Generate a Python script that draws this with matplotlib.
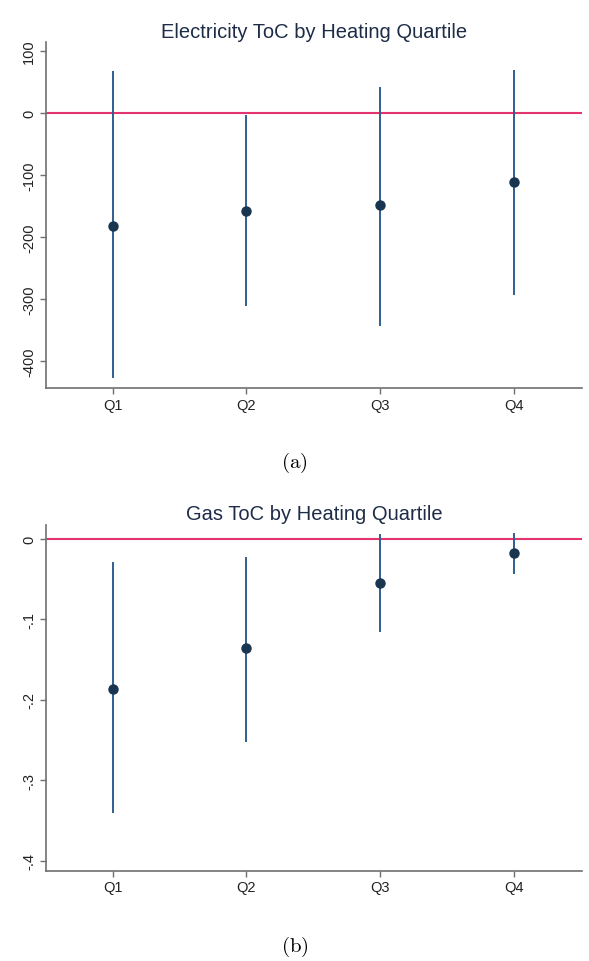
import matplotlib
matplotlib.use("Agg")
import matplotlib.pyplot as plt
import numpy as np

plt.rcParams['font.family'] = ['Liberation Sans', 'DejaVu Sans']
plt.rcParams['mathtext.fontset'] = 'cm'

quartiles = ["Q1", "Q2", "Q3", "Q4"]

elec_est = [-182, -158, -149, -112]
elec_lo = [-428, -311, -344, -294]
elec_hi = [68, -4, 42, 69]

gas_est = [-0.186, -0.136, -0.055, -0.017]
gas_lo = [-0.341, -0.252, -0.116, -0.043]
gas_hi = [-0.029, -0.023, 0.006, 0.0075]

elec_ticks = [100, 0, -100, -200, -300, -400]
elec_ticklabels = ["100", "0", "-100", "-200", "-300", "-400"]
gas_ticks = [0, -0.1, -0.2, -0.3, -0.4]
gas_ticklabels = ["0", "-.1", "-.2", "-.3", "-.4"]

fig = plt.figure(figsize=(5.89, 9.62), dpi=100)
fig.patch.set_facecolor('white')

axis_col = '#707070'
line_col = '#2f5f8f'
dot_col = '#1a3550'
red_col = '#e5336f'
title_col = '#1e2c48'


def panel(ax, est, lo, hi, ticks, ticklabels, ylim, title):
    x = np.arange(1, len(quartiles) + 1)
    ax.axhline(0, color=red_col, lw=1.5, zorder=1)
    ax.vlines(x, lo, hi, color=line_col, lw=1.4, zorder=2)
    ax.plot(x, est, 'o', color=dot_col, ms=6.5, zorder=3)
    ax.set_xlim(0.5, 4.51)
    ax.set_ylim(*ylim)
    ax.set_xticks(x)
    ax.set_xticklabels(quartiles)
    ax.set_yticks(ticks)
    ax.set_yticklabels(ticklabels, rotation=90, va='center')
    for s in ['top', 'right']:
        ax.spines[s].set_visible(False)
    for s in ['left', 'bottom']:
        ax.spines[s].set_color(axis_col)
        ax.spines[s].set_linewidth(1.2)
    ax.tick_params(colors=axis_col, labelcolor='#222222', length=4, width=1.0,
                   labelsize=10.5, pad=3)
    ax.set_title(title, fontsize=14.5, color=title_col, pad=4)


ax1 = fig.add_axes([0.0776, 0.5956, 0.911, 0.3594])
panel(ax1, elec_est, elec_lo, elec_hi, elec_ticks, elec_ticklabels,
      (-443.5, 114), "Electricity ToC by Heating Quartile")

ax2 = fig.add_axes([0.0776, 0.0939, 0.911, 0.3597])
panel(ax2, gas_est, gas_lo, gas_hi, gas_ticks, gas_ticklabels,
      (-0.4124, 0.0178), "Gas ToC by Heating Quartile")

fig.text(0.5, 0.5187, r'$\mathrm{(a)}$', ha='center', va='center', fontsize=15)
fig.text(0.5, 0.0159, r'$\mathrm{(b)}$', ha='center', va='center', fontsize=15)

fig.savefig('out.png', dpi=100, facecolor='white')
